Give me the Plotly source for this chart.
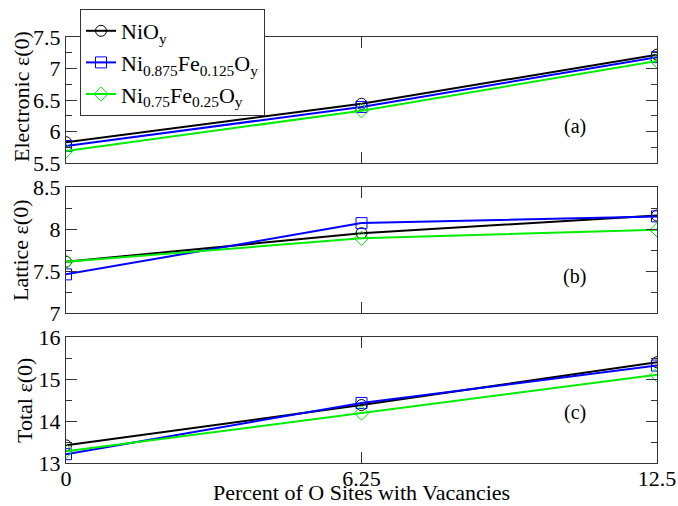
import plotly.graph_objects as go
from plotly.subplots import make_subplots

x_vals = [0, 6.25, 12.5]
series_names = ["NiO<sub>y</sub>",
                "Ni<sub>0.875</sub>Fe<sub>0.125</sub>O<sub>y</sub>",
                "Ni<sub>0.75</sub>Fe<sub>0.25</sub>O<sub>y</sub>"]
electronic_nio = [5.83, 6.44, 7.22]
electronic_fe125 = [5.77, 6.39, 7.18]
electronic_fe25 = [5.69, 6.33, 7.12]
lattice_nio = [7.61, 7.95, 8.16]
lattice_fe125 = [7.46, 8.07, 8.15]
lattice_fe25 = [7.61, 7.89, 7.99]
total_nio = [13.42, 14.38, 15.40]
total_fe125 = [13.21, 14.43, 15.32]
total_fe25 = [13.28, 14.19, 15.10]

colors = ["#000000", "#0000ff", "#00ee00"]
symbols = ["circle-open", "square-open", "diamond-open"]

panels = [
    (electronic_nio, electronic_fe125, electronic_fe25),
    (lattice_nio, lattice_fe125, lattice_fe25),
    (total_nio, total_fe125, total_fe25),
]

fig = make_subplots(rows=3, cols=1, shared_xaxes=True)
for r, data in enumerate(panels, start=1):
    for i, ys in enumerate(data):
        fig.add_trace(go.Scatter(
            x=x_vals, y=ys, mode="lines+markers", name=series_names[i],
            line=dict(color=colors[i], width=2),
            marker=dict(symbol=symbols[i], size=11, color=colors[i], line=dict(width=1)),
            showlegend=(r == 1)), row=r, col=1)

W, H = 678, 506
left, right = 66 / W, 657 / W
def yd(top, bot):
    return [1 - bot / H, 1 - top / H]

font = "Liberation Serif"
FS = 22
axis_common = dict(showline=True, linecolor="#333333", linewidth=1, mirror="allticks",
                   ticks="inside", ticklen=11, tickcolor="#333333", showgrid=False,
                   zeroline=False, automargin=False,
                   tickfont=dict(family=font, size=FS, color="black"))

fig.update_layout(
    width=W, height=H, margin=dict(l=0, r=0, t=0, b=0, autoexpand=False),
    plot_bgcolor="white", paper_bgcolor="white",
    font=dict(family=font, size=FS, color="black"),
    legend=dict(x=80 / W, y=1 - 9 / H, xanchor="left", yanchor="top",
                bordercolor="#333333", borderwidth=1, bgcolor="white",
                font=dict(family=font, size=22), tracegroupgap=0),
)

xdoms = dict(domain=[left, right], range=[0, 12.5], tickvals=x_vals, ticktext=["0", "6.25", "12.5"])
fig.update_xaxes(**axis_common, **xdoms)
fig.update_xaxes(showticklabels=False, row=1, col=1)
fig.update_xaxes(showticklabels=False, row=2, col=1)
fig.update_xaxes(showticklabels=True, row=3, col=1, ticklabelstandoff=-4)

ycfg = [
    dict(domain=yd(37, 163), range=[5.5, 7.5], tickvals=[5.5, 6, 6.5, 7, 7.5],
         ticktext=["5.5", "6", "6.5", "7", "7.5"], minor_dtick=0.25),
    dict(domain=yd(187, 313), range=[7, 8.5], tickvals=[7, 7.5, 8, 8.5],
         ticktext=["7", "7.5", "8", "8.5"], minor_dtick=0.25),
    dict(domain=yd(337, 463), range=[13, 16], tickvals=[13, 14, 15, 16],
         ticktext=["13", "14", "15", "16"], minor_dtick=0.5),
]
for r, c in enumerate(ycfg, start=1):
    fig.update_yaxes(**axis_common, domain=c["domain"], range=c["range"],
                     tickvals=c["tickvals"], ticktext=c["ticktext"],
                     minor=dict(dtick=c["minor_dtick"], ticks="inside", ticklen=6, tickcolor="#333333"),
                     row=r, col=1)

# axis titles
y_titles = [("Electronic ε(0)", 21, 97), ("Lattice ε(0)", 20, 251), ("Total ε(0)", 24, 401)]
for txt, xc, yc in y_titles:
    fig.add_annotation(text=txt, x=xc / W, y=1 - yc / H, xref="paper", yref="paper",
                       textangle=-90, showarrow=False, xanchor="center", yanchor="middle",
                       font=dict(family=font, size=FS))
fig.add_annotation(text="Percent of O Sites with Vacancies", x=361 / W, y=1 - 492 / H,
                   xref="paper", yref="paper", showarrow=False, xanchor="center",
                   yanchor="middle", font=dict(family=font, size=FS))

for lab, yc in [("(a)", 113), ("(b)", 276), ("(c)", 426)]:
    fig.add_annotation(text=lab, x=588 / W, y=1 - yc / H, xref="paper", yref="paper",
                       showarrow=False, font=dict(family=font, size=20))

fig.write_html("out.html", config={"displayModeBar": False},
               post_script="document.body.style.margin='0px';document.body.style.overflow='hidden';")
